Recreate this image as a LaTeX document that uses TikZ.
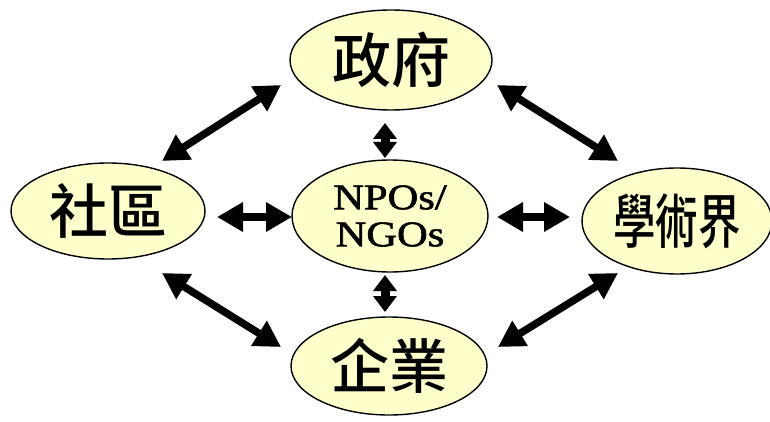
\documentclass[tikz,border=0pt]{standalone}
\usepackage{fontspec}
\newfontfamily\cjk{Noto Sans CJK TC}[UprightFont={* Medium}]
\newfontfamily\latin{Liberation Serif}[FakeBold=1.5]
\usetikzlibrary{shapes.geometric,arrows.meta}
\definecolor{pale}{RGB}{255,255,204}
\tikzset{
  party/.style={ellipse, draw=black, line width=1.4pt, fill=pale, inner sep=0pt},
  link/.style={line width=7.5pt, {Triangle[length=26pt,width=28pt]}-{Triangle[length=26pt,width=28pt]}},
  shortlink/.style={line width=9pt, {Triangle[length=16pt,width=23pt]}-{Triangle[length=16pt,width=23pt]}},
  zh/.style={font=\cjk\fontsize{59}{60}\selectfont}
}
\begin{document}
\begin{tikzpicture}[x=1pt,y=-1pt]
\useasboundingbox (0,0) rectangle (770,422);

% the five actors
\node[party, zh, minimum width=202pt, minimum height=100pt] (gov) at (391,60) {政府};
\node[party, minimum width=196pt, minimum height=112pt, align=center,
      font=\latin\fontsize{36}{37}\selectfont] (npo) at (390,216)
      {\scalebox{1.18}[1]{NPOs/}\\\scalebox{1.18}[1]{NGOs}};
\node[party, zh, minimum width=194pt, minimum height=96pt] (comm) at (108,211) {社區};
\node[party, minimum width=190pt, minimum height=106pt] (acad) at (677,221)
      {\cjk\fontsize{59}{60}\selectfont\scalebox{0.72}[1]{學術界}};
\node[party, zh, minimum width=196pt, minimum height=98pt] (biz) at (389,366) {企業};

% free ends of the links
\coordinate (c1) at (162,161); \coordinate (g1) at (281,85);
\coordinate (g2) at (497,85);  \coordinate (a1) at (618,161);
\coordinate (c2) at (162,273); \coordinate (b1) at (281,347);
\coordinate (b2) at (498,347); \coordinate (a2) at (618,273);
\coordinate (cl) at (217,217); \coordinate (nl) at (292,217);
\coordinate (nr) at (497,217); \coordinate (ar) at (570,217);
\coordinate (gt) at (385,123); \coordinate (nt) at (385,158);
\coordinate (nb) at (385,275); \coordinate (bt) at (385,312);

\draw[link] (c1) -- (g1);
\draw[link] (g2) -- (a1);
\draw[link] (c2) -- (b1);
\draw[link] (b2) -- (a2);
\draw[link] (cl) -- (nl);
\draw[link] (nr) -- (ar);
\draw[shortlink] (gt) -- (nt);
\draw[shortlink] (nb) -- (bt);
\end{tikzpicture}
\end{document}
